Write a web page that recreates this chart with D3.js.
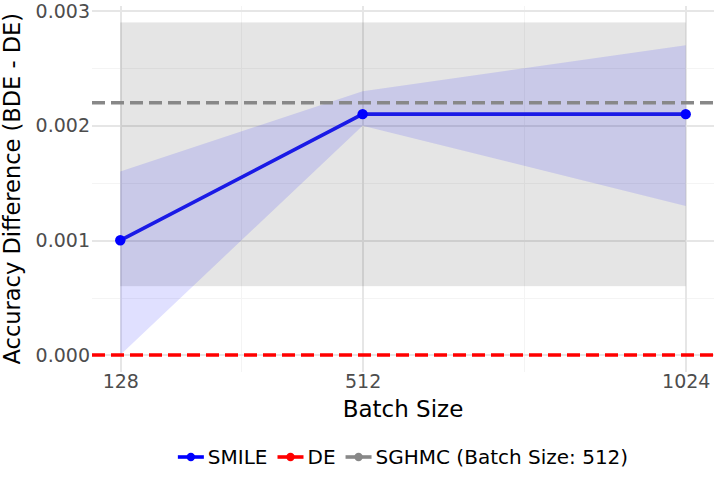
<!DOCTYPE html>
<meta charset="utf-8">

<style>
    body { margin: 0; background: #fff; }
    svg { font-family: "DejaVu Sans", sans-serif; }
    .grid path { display: none; }
    .grid line { shape-rendering: crispEdges; }
    .axis path, .axis line { display: none; }
    .axis text { font-family: "DejaVu Sans", sans-serif; font-size: 19px; fill: #4d4d4d; }
</style>

<svg width="718" height="477"></svg>

<script src="https://d3js.org/d3.v7.min.js"></script>
<script>
    var batchSizes = [128, 512, 1024];
    var smileMean = [0.001, 0.0021, 0.0021];
    var smileLower = [0.0, 0.002, 0.0013];
    var smileUpper = [0.0016, 0.0023, 0.0027];
    var deValue = 0;
    var sghmcMean = 0.0022;
    var sghmcBand = [0.0006, 0.0029];
    var yTicks = [0, 0.001, 0.002, 0.003];
    var yMinor = [0.0005, 0.0015, 0.0025];
    var xMinor = [320, 768];
    var legendLabels = ["SMILE", "DE", "SGHMC (Batch Size: 512)"];
    var legendColors = ["#0000ff", "#ff0000", "#888888"];

    (function () {
        var svg = d3.select("svg"),
            left = 92, right = 714, top = 5.8, bottom = 371.6;

        // ggplot style 5% expansion
        var xSpan = batchSizes[2] - batchSizes[0],
            xScale = d3.scaleLinear()
                .domain([batchSizes[0] - 0.05 * xSpan, batchSizes[2] + 0.05 * xSpan])
                .range([left, right]),
            yHi = sghmcBand[1],
            yScale = d3.scaleLinear()
                .domain([-0.05 * yHi, yHi * 1.05])
                .range([bottom, top]);

        // grid
        svg.append("g").attr("class", "grid")
            .attr("transform", "translate(" + [left, 0] + ")")
            .call(d3.axisLeft(yScale).tickValues(yMinor).tickSize(-(right - left)).tickFormat(""))
            .selectAll("line").attr("stroke", "#f4f4f4").attr("stroke-width", 1);
        svg.append("g").attr("class", "grid")
            .attr("transform", "translate(" + [0, bottom] + ")")
            .call(d3.axisBottom(xScale).tickValues(xMinor).tickSize(-(bottom - top)).tickFormat(""))
            .selectAll("line").attr("stroke", "#f4f4f4").attr("stroke-width", 1);
        svg.append("g").attr("class", "grid")
            .attr("transform", "translate(" + [left, 0] + ")")
            .call(d3.axisLeft(yScale).tickValues(yTicks).tickSize(-(right - left)).tickFormat(""))
            .selectAll("line").attr("stroke", "#e6e6e6").attr("stroke-width", 2);
        svg.append("g").attr("class", "grid")
            .attr("transform", "translate(" + [0, bottom] + ")")
            .call(d3.axisBottom(xScale).tickValues(batchSizes).tickSize(-(bottom - top)).tickFormat(""))
            .selectAll("line").attr("stroke", "#e6e6e6").attr("stroke-width", 2);

        // SGHMC band
        svg.append("rect")
            .attr("x", xScale(batchSizes[0]))
            .attr("width", xScale(batchSizes[2]) - xScale(batchSizes[0]))
            .attr("y", yScale(sghmcBand[1]))
            .attr("height", yScale(sghmcBand[0]) - yScale(sghmcBand[1]))
            .attr("fill", "#000").attr("fill-opacity", 0.1);

        // SMILE ribbon
        var area = d3.area()
            .x(function (d, i) { return xScale(batchSizes[i]); })
            .y0(function (d, i) { return yScale(smileLower[i]); })
            .y1(function (d, i) { return yScale(smileUpper[i]); });
        svg.append("path")
            .attr("d", area(batchSizes))
            .attr("fill", "#0000ff").attr("fill-opacity", 0.12);

        // reference lines
        svg.append("line")
            .attr("x1", left).attr("x2", right)
            .attr("y1", yScale(deValue)).attr("y2", yScale(deValue))
            .attr("stroke", "#ff0000").attr("stroke-width", 3.6)
            .attr("stroke-dasharray", "13,6");
        svg.append("line")
            .attr("x1", left).attr("x2", right)
            .attr("y1", yScale(sghmcMean)).attr("y2", yScale(sghmcMean))
            .attr("stroke", "#888888").attr("stroke-width", 3.6)
            .attr("stroke-dasharray", "13,6");

        // SMILE line + points
        var line = d3.line()
            .x(function (d, i) { return xScale(batchSizes[i]); })
            .y(function (d) { return yScale(d); });
        svg.append("path")
            .attr("d", line(smileMean))
            .attr("fill", "none").attr("stroke", "#1a1ae6").attr("stroke-width", 3.6);
        svg.selectAll(".pt").data(smileMean).enter().append("circle")
            .attr("class", "pt")
            .attr("cx", function (d, i) { return xScale(batchSizes[i]); })
            .attr("cy", function (d) { return yScale(d); })
            .attr("r", 5.2).attr("fill", "#0000ff");

        // axes
        svg.append("g").attr("class", "axis")
            .attr("transform", "translate(" + [left, 0] + ")")
            .call(d3.axisLeft(yScale).tickValues(yTicks).tickSize(0).tickPadding(2).tickFormat(d3.format(".3f")));
        svg.append("g").attr("class", "axis")
            .attr("transform", "translate(" + [0, bottom] + ")")
            .call(d3.axisBottom(xScale).tickValues(batchSizes).tickSize(0).tickPadding(3).tickFormat(d3.format("d")));

        var midX = (left + right) / 2;
        svg.append("text")
            .attr("x", midX).attr("y", 416.5)
            .attr("text-anchor", "middle")
            .style("font-size", "23px").attr("fill", "#000")
            .text("Batch Size");
        svg.append("text")
            .attr("transform", "translate(" + [20, (top + bottom) / 2] + ") rotate(-90)")
            .attr("text-anchor", "middle")
            .style("font-size", "22.5px").attr("fill", "#000")
            .text("Accuracy Difference (BDE - DE)");

        // legend
        var keyW = 26, keyGap = 4, itemGap = 10, ly = 457,
            legend = svg.append("g"),
            x = 0;
        legendLabels.forEach(function (lab, i) {
            var g = legend.append("g").attr("transform", "translate(" + [x, 0] + ")");
            g.append("line").attr("x1", 0).attr("x2", keyW).attr("y1", ly).attr("y2", ly)
                .attr("stroke", legendColors[i]).attr("stroke-width", 3.6);
            g.append("circle").attr("cx", keyW / 2).attr("cy", ly).attr("r", 4.2)
                .attr("fill", legendColors[i]);
            var t = g.append("text").attr("x", keyW + keyGap).attr("y", ly + 7)
                .style("font-size", "20px").attr("fill", "#000").text(lab);
            x += keyW + keyGap + t.node().getComputedTextLength() + itemGap;
        });
        var legW = x - itemGap;
        legend.attr("transform", "translate(" + [midX - legW / 2, 0] + ")");
    })();
</script>
